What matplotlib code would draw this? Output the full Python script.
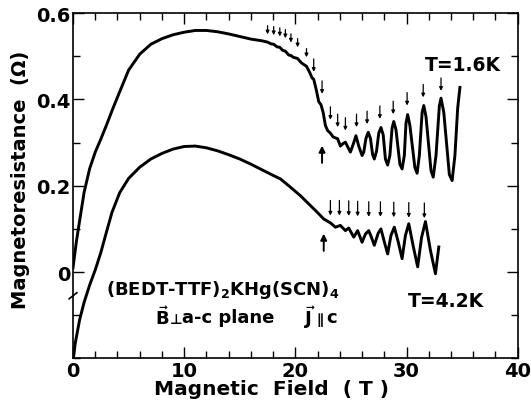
import matplotlib
matplotlib.use("Agg")
import matplotlib.pyplot as plt
from matplotlib.ticker import MultipleLocator, FixedLocator, FuncFormatter

plt.rcParams['font.family'] = ['DejaVu Sans']
plt.rcParams['font.weight'] = 'bold'
plt.rcParams['mathtext.fontset'] = 'custom'
plt.rcParams['mathtext.rm'] = 'DejaVu Sans:bold'
plt.rcParams['mathtext.bf'] = 'DejaVu Sans:bold'
plt.rcParams['mathtext.it'] = 'DejaVu Sans:bold'

# ---- data: T = 1.6 K curve (field in T, resistance in Ohm) ----
field_16 = [0.0, 0.3, 0.6, 1.0, 1.5, 2.0, 2.5, 3.0, 3.6, 4.2, 5.0, 6.0, 7.0, 8.0, 9.0,
            10.0, 11.0, 12.0, 13.0, 14.0, 15.0, 16.0, 17.0, 17.5, 17.8, 18.05, 18.35,
            18.6, 18.85, 19.1, 19.4, 19.6, 19.8, 20.2, 20.5, 20.7, 21.0, 21.3, 21.5,
            21.65, 21.9, 22.1, 22.3, 22.5, 22.7, 22.9, 23.15, 23.4, 23.8, 24.05, 24.3,
            24.5, 24.75, 24.95, 25.2, 25.45, 25.7, 26.0, 26.15, 26.35, 26.55, 26.75,
            26.95, 27.1, 27.3, 27.5, 27.7, 27.9, 28.1, 28.3, 28.5, 28.7, 28.85, 29.05,
            29.4, 29.6, 29.8, 29.95, 30.1, 30.3, 30.75, 30.95, 31.15, 31.4, 31.55,
            31.75, 32.2, 32.4, 32.65, 32.95, 33.1, 33.35, 33.85, 34.1, 34.35, 34.6, 34.8]
res_16 = [0.01, 0.07, 0.12, 0.185, 0.24, 0.278, 0.308, 0.34, 0.38, 0.418, 0.468, 0.505,
          0.528, 0.541, 0.55, 0.556, 0.56, 0.56, 0.557, 0.552, 0.546, 0.54, 0.536,
          0.533, 0.529, 0.528, 0.522, 0.521, 0.514, 0.512, 0.503, 0.502, 0.498, 0.495,
          0.486, 0.482, 0.477, 0.462, 0.450, 0.447, 0.42, 0.395, 0.388, 0.37, 0.34,
          0.328, 0.322, 0.313, 0.309, 0.292, 0.298, 0.301, 0.288, 0.278, 0.296, 0.316,
          0.292, 0.270, 0.278, 0.31, 0.324, 0.31, 0.272, 0.262, 0.28, 0.322, 0.335,
          0.318, 0.262, 0.248, 0.27, 0.334, 0.349, 0.33, 0.25, 0.239, 0.27, 0.345,
          0.365, 0.34, 0.242, 0.229, 0.27, 0.37, 0.386, 0.36, 0.235, 0.22, 0.27, 0.385,
          0.403, 0.37, 0.226, 0.212, 0.27, 0.38, 0.428]

# ---- data: T = 4.2 K curve ----
field_42 = [0.05, 0.2, 0.6, 1.0, 1.5, 2.0, 2.5, 3.0, 3.5, 4.2, 5.0, 6.0, 7.0, 8.0, 9.0,
            10.0, 11.0, 12.0, 13.0, 14.0, 15.0, 16.0, 17.0, 18.0, 18.65, 19.5, 20.45,
            21.2, 21.95, 22.55, 23.15, 23.6, 24.05, 24.5, 24.8, 25.25, 25.6, 26.0, 26.3,
            26.6, 26.85, 27.1, 27.45, 27.7, 28.0, 28.3, 28.6, 28.9, 29.25, 29.6, 29.9,
            30.2, 30.6, 31.0, 31.35, 31.7, 32.15, 32.6, 32.9]
res_42 = [-0.197, -0.165, -0.11, -0.07, -0.03, 0.005, 0.045, 0.092, 0.138, 0.184, 0.217,
          0.243, 0.262, 0.275, 0.285, 0.291, 0.292, 0.288, 0.281, 0.272, 0.262, 0.25,
          0.237, 0.224, 0.216, 0.198, 0.177, 0.158, 0.139, 0.123, 0.114, 0.104, 0.108,
          0.096, 0.102, 0.081, 0.096, 0.069, 0.088, 0.096, 0.08, 0.062, 0.09, 0.10,
          0.07, 0.042, 0.085, 0.104, 0.07, 0.031, 0.085, 0.112, 0.06, 0.012, 0.08,
          0.117, 0.05, -0.004, 0.058]

# ---- oscillation markers ----
arrow_field_16 = [17.5, 18.05, 18.6, 19.1, 19.6, 20.2, 21.0, 21.65, 22.4, 23.15, 23.8,
                  24.5, 25.5, 26.45, 27.6, 28.8, 30.05, 31.5, 33.1]
arrow_tip_16 = [0.551, 0.549, 0.546, 0.542, 0.532, 0.521, 0.498, 0.464, 0.413, 0.353,
                0.336, 0.328, 0.336, 0.343, 0.355, 0.366, 0.386, 0.405, 0.42]
arrow_field_42 = [23.15, 23.96, 24.8, 25.6, 26.6, 27.65, 28.85, 30.2, 31.6]
arrow_tip_42 = [0.131, 0.131, 0.130, 0.129, 0.128, 0.128, 0.127, 0.126, 0.125]
onset_field = [22.4, 22.55]
onset_tip = [0.293, 0.089]

x_ticks = [0, 10, 20, 30, 40]
y_ticks = [0, 0.2, 0.4, 0.6]

fig = plt.figure(figsize=(5.31, 4.06), dpi=100)
ax = fig.add_axes([0.1375, 0.115, 0.8375, 0.850])

ax.plot(field_16, res_16, color='black', lw=2.1, solid_joinstyle='round')
ax.plot(field_42, res_42, color='black', lw=2.1, solid_joinstyle='round')

for i, (b, t) in enumerate(zip(arrow_field_16, arrow_tip_16)):
    ln = 0.02 if i < 7 else 0.03
    ax.annotate("", xy=(b, t), xytext=(b, t + ln),
                arrowprops=dict(arrowstyle="-|>", lw=0.9, color='black',
                                mutation_scale=5, shrinkA=0, shrinkB=0))
for b, t in zip(arrow_field_42, arrow_tip_42):
    ax.annotate("", xy=(b, t), xytext=(b, t + 0.035),
                arrowprops=dict(arrowstyle="-|>", lw=0.9, color='black',
                                mutation_scale=5, shrinkA=0, shrinkB=0))
for b, t in zip(onset_field, onset_tip):
    ax.annotate("", xy=(b, t), xytext=(b, t - 0.04),
                arrowprops=dict(arrowstyle="-|>", lw=1.4, color='black',
                                mutation_scale=9, shrinkA=0, shrinkB=0))

ax.set_xlim(0, 40)
ax.set_ylim(-0.2, 0.6)

ax.xaxis.set_major_locator(FixedLocator(x_ticks))
ax.xaxis.set_minor_locator(MultipleLocator(2))
ax.yaxis.set_major_locator(FixedLocator(y_ticks))
ax.yaxis.set_minor_locator(MultipleLocator(0.1))
ax.yaxis.set_major_formatter(FuncFormatter(lambda v, p: '0' if abs(v) < 1e-9 else f'{v:.1f}'))
ax.tick_params(which='both', direction='in', top=True, right=True, width=1.0)
ax.tick_params(which='major', length=8, labelsize=14, pad=2)
ax.tick_params(which='minor', length=5)
for lab in ax.get_xticklabels() + ax.get_yticklabels():
    lab.set_fontweight('bold')
for s in ax.spines.values():
    s.set_linewidth(1.2)

ax.set_xlabel('Magnetic  Field  ( T )', fontsize=14.5, fontweight='bold')
ax.xaxis.set_label_coords(0.447, -0.060)
ax.set_ylabel('Magnetoresistance  (Ω)', fontsize=14, fontweight='bold')
ax.yaxis.set_label_coords(-0.097, 0.519)

# axis break mark on left spine
ax.plot([-0.35, 0.35], [-0.062, -0.048], color='black', lw=1.2, clip_on=False)

ax.text(35.1, 0.48, 'T=1.6K', fontsize=13.5, fontweight='bold', ha='center', va='center')
ax.text(33.5, -0.066, 'T=4.2K', fontsize=13.5, fontweight='bold', ha='center', va='center')
ax.text(3.0, -0.039, r'(BEDT-TTF)$_\mathbf{2}$KHg(SCN)$_\mathbf{4}$', fontsize=13,
        fontweight='bold', ha='left', va='center')
ax.text(7.4, -0.104, r'$\vec{\mathbf{B}}$', fontsize=13, fontweight='bold',
        ha='left', va='center')
ax.text(8.7, -0.108, '⊥', fontsize=10, fontweight='bold', ha='left', va='center')
ax.text(9.8, -0.104, 'a-c plane', fontsize=13, fontweight='bold',
        ha='left', va='center')
ax.text(20.8, -0.104, r'$\vec{\mathbf{J}}$', fontsize=13, fontweight='bold',
        ha='left', va='center')
ax.text(21.9, -0.108, '∥', fontsize=10, fontweight='bold', ha='left', va='center')
ax.text(22.8, -0.104, 'c', fontsize=13, fontweight='bold', ha='left', va='center')

fig.savefig('out.png', dpi=100)
